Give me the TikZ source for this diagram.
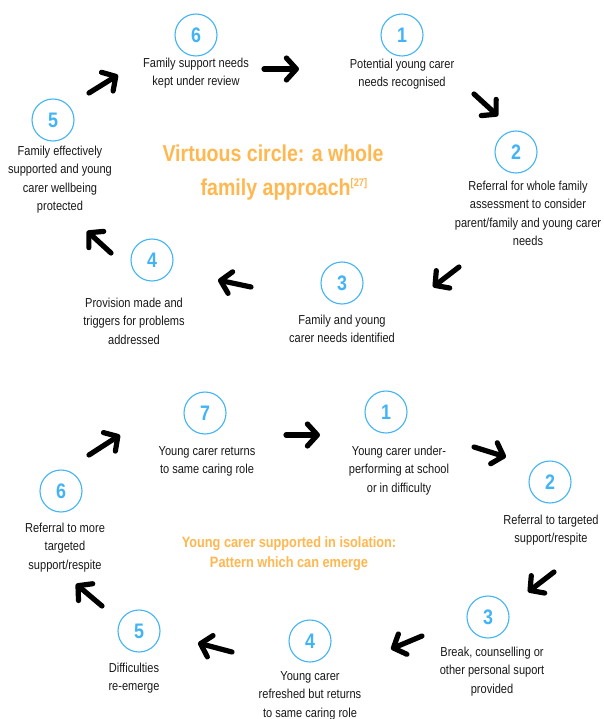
\documentclass[tikz,border=0pt]{standalone}
\usepackage{fontspec}
\setmainfont[FakeStretch=0.85]{Liberation Sans}
\usetikzlibrary{arrows.meta}
\definecolor{numblue}{RGB}{66,180,245}
\definecolor{ttlorange}{RGB}{255,183,80}
\definecolor{txtgray}{RGB}{25,25,25}
\tikzset{
  numc/.style={circle,draw=numblue,line width=1.1pt,minimum size=42pt,inner sep=0pt,
    text=numblue,font=\fontsize{21}{21}\selectfont\bfseries},
  desc/.style={anchor=north,align=center,inner sep=0pt,text=txtgray,
    font=\fontsize{13}{18.5}\selectfont},
  ttl/.style={anchor=north,align=center,inner sep=0pt,text=ttlorange},
  arr/.style={line width=5.2pt,line cap=round,black,
    -{Straight Barb[length=10pt,width=22pt,line cap=round,line join=round]}}
}
\begin{document}
\begin{tikzpicture}[x=1pt,y=-1pt]
\useasboundingbox[fill=white] (0,0) rectangle (603,719);

% ---------- top circle ----------
\node[numc] (t6) at (196,35) {6};
\node[desc] (t6t) at (196,54) {\strut Family support needs\\kept under review};
\node[numc] (t1) at (402,35) {1};
\node[desc] (t1t) at (402,55) {\strut Potential young carer\\needs recognised};
\node[numc] (t2) at (516,152) {2};
\node[desc] (t2t) at (528,177) {\strut Referral for whole family\\assessment to consider\\parent/family and young carer\\needs};
\node[numc] (t3) at (342,283) {3};
\node[desc] (t3t) at (342,311) {\strut Family and young\\carer needs identified};
\node[numc] (t4) at (152,260) {4};
\node[desc] (t4t) at (134,294) {\strut Provision made and\\triggers for problems\\addressed};
\node[numc] (t5) at (53,120) {5};
\node[desc] (t5t) at (60,142) {\strut Family effectively\\supported and young\\carer wellbeing\\protected};

\node[ttl,font=\fontsize{23}{34}\selectfont\bfseries] (ttop) at (273,138)
  {\strut Virtuous circle: a whole\\\hspace*{22pt}family approach\raisebox{0.75ex}{\fontsize{11}{11}\selectfont[27]}};

\coordinate (ta1) at (264,69);  \coordinate (tb1) at (299,69);
\coordinate (ta2) at (474,94);  \coordinate (tb2) at (498,116);
\coordinate (ta3) at (459,267); \coordinate (tb3) at (433,287);
\coordinate (ta4) at (251,287); \coordinate (tb4) at (218,280);
\coordinate (ta5) at (111,253); \coordinate (tb5) at (87,231);
\coordinate (ta6) at (89,93);   \coordinate (tb6) at (118,75);
\foreach \i in {1,...,6} \draw[arr] (ta\i) -- (tb\i);

% ---------- bottom circle ----------
\node[numc] (b7) at (205,413) {7};
\node[desc] (b7t) at (207,442) {\strut Young carer returns\\to same caring role};
\node[numc] (b1) at (386,412) {1};
\node[desc] (b1t) at (399,442) {\strut Young carer under-\\performing at school\\or in difficulty};
\node[numc] (b2) at (550,482) {2};
\node[desc] (b2t) at (551,511) {\strut Referral to targeted\\support/respite};
\node[numc] (b3) at (488,617) {3};
\node[desc] (b3t) at (492,643) {\strut Break, counselling or\\other personal suport\\provided};
\node[numc] (b4) at (310,641) {4};
\node[desc] (b4t) at (310,667) {\strut Young carer\\refreshed but returns\\to same caring role};
\node[numc] (b5) at (139,631) {5};
\node[desc] (b5t) at (134,659) {\strut Difficulties\\re-emerge};
\node[numc] (b6) at (61,491) {6};
\node[desc] (b6t) at (65,519) {\strut Referral to more\\targeted\\support/respite};

\node[ttl,font=\fontsize{15}{20}\selectfont\bfseries] (tbot) at (289,533)
  {\strut Young carer supported in isolation:\\Pattern which can emerge};

\coordinate (ba1) at (286,435); \coordinate (bb1) at (320,435);
\coordinate (ba2) at (474,447); \coordinate (bb2) at (506,457);
\coordinate (ba3) at (554,572); \coordinate (bb3) at (528,592);
\coordinate (ba4) at (422,636); \coordinate (bb4) at (391,649);
\coordinate (ba5) at (232,652); \coordinate (bb5) at (198,643);
\coordinate (ba6) at (102,606); \coordinate (bb6) at (76,584);
\coordinate (ba7) at (89,455);  \coordinate (bb7) at (120,435);
\foreach \i in {1,...,7} \draw[arr] (ba\i) -- (bb\i);
\end{tikzpicture}
\end{document}
